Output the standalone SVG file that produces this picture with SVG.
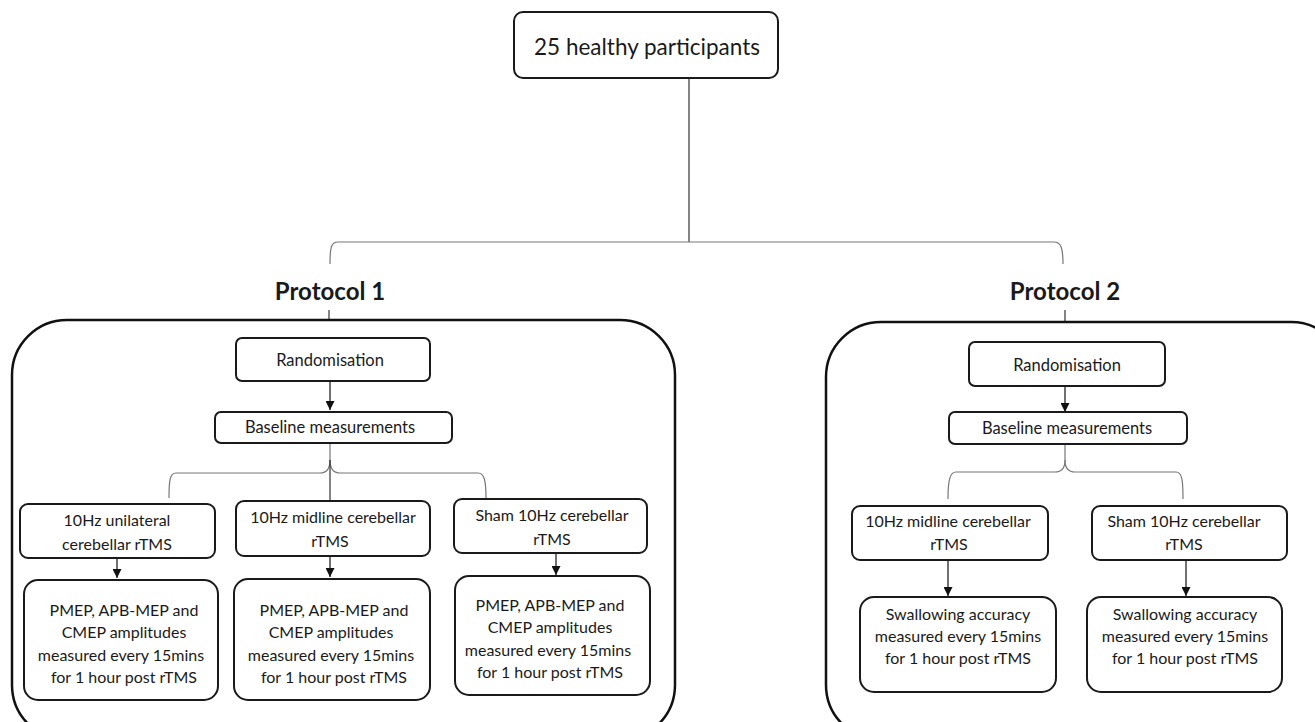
<svg xmlns="http://www.w3.org/2000/svg" width="1315" height="722" viewBox="0 0 1315 722">
<defs>
<style>
.box{fill:#fff;stroke:#1a1a1a;stroke-width:2}
.cont{fill:none;stroke:#111;stroke-width:2.5}
.t{font-family:Lato,"Open Sans",sans-serif;fill:#1a1a1a;text-anchor:middle}
.s15{font-size:16.5px}
.s16{font-size:16px}
.br{fill:none;stroke:#777;stroke-width:1.2}
.ln{fill:none;stroke:#333;stroke-width:1.2}
.ar{fill:none;stroke:#111;stroke-width:1.2;marker-end:url(#ah)}
</style>
<marker id="ah" viewBox="0 0 10 10" refX="10" refY="5" markerWidth="9" markerHeight="9" markerUnits="userSpaceOnUse" orient="auto"><path d="M0,0 L10,5 L0,10 Z" fill="#111"/></marker>
</defs>
<rect width="1315" height="722" fill="#fff"/>

<g id="connectors">
<path class="ln" d="M689,78 V242"/>
<path class="br" d="M330,264 C330,248 331,242 338,242 H1054 C1061,242 1063,248 1063,264"/>
<path class="ln" d="M329,310 V320"/>
<path class="ln" d="M1065,310 V322"/>
<path class="ar" d="M330,381 V410"/>
<path class="br" d="M330,443 V460 C330,470 326,473 320,473 H176 C170,473 169,480 169,498"/>
<path class="br" d="M330,460 C330,470 334,473 340,473 H478 C484,473 486,480 486,498"/>
<path class="ln" d="M330,460 V500"/>
<path class="ar" d="M117,558 V578"/>
<path class="ar" d="M330,556 V577"/>
<path class="ar" d="M556,553 V575"/>
<path class="ar" d="M1065,386 V412"/>
<path class="br" d="M1065,444 V460 C1065,469 1061,472 1055,472 H956 C950,472 948,480 948,499"/>
<path class="br" d="M1065,460 C1065,469 1069,472 1075,472 H1176 C1182,472 1183,480 1183,499"/>
<path class="ar" d="M948,560 V596"/>
<path class="ar" d="M1186,560 V596"/>
</g>

<g id="top">
<rect class="box" x="514" y="12" width="264" height="66" rx="9"/>
<text class="t" x="647" y="55" font-size="22.5">25 healthy participants</text>
</g>

<g id="protocol1-label"><text class="t" x="330" y="300" font-size="24" font-weight="bold" fill="#111">Protocol 1</text></g>
<g id="protocol2-label"><text class="t" x="1065" y="300" font-size="24" font-weight="bold" fill="#111">Protocol 2</text></g>

<g id="protocol1">
<rect class="cont" x="12" y="320" width="663" height="420" rx="55"/>
</g>
<g id="protocol2">
<rect class="cont" x="826" y="322" width="520" height="418" rx="55"/>
</g>

<g id="p1-random"><rect class="box" x="236" y="338" width="194" height="43" rx="6"/><text class="t s15" x="330" y="366">Randomisation</text></g>
<g id="p1-baseline"><rect class="box" x="215" y="412" width="237" height="31" rx="6"/><text class="t s15" x="330" y="433">Baseline measurements</text></g>
<g id="p1-a"><rect class="box" x="20" y="504" width="195" height="54" rx="8"/><text class="t s16" x="117" y="526">10Hz unilateral</text><text class="t s16" x="117" y="550">cerebellar rTMS</text></g>
<g id="p1-b"><rect class="box" x="236" y="501" width="194" height="55" rx="8"/><text class="t s16" x="333" y="523">10Hz midline cerebellar</text><text class="t s16" x="330" y="547">rTMS</text></g>
<g id="p1-c"><rect class="box" x="454" y="499" width="193" height="54" rx="8"/><text class="t s16" x="552" y="521">Sham 10Hz cerebellar</text><text class="t s16" x="552" y="545">rTMS</text></g>
<g id="p1-d"><rect class="box" x="24" y="580" width="194" height="120" rx="14"/>
<text class="t s16" x="124" y="616">PMEP, APB-MEP and</text><text class="t s16" x="124" y="638">CMEP amplitudes</text><text class="t s16" x="121" y="661">measured every 15mins</text><text class="t s16" x="124" y="683">for 1 hour post rTMS</text></g>
<g id="p1-e"><rect class="box" x="234" y="579" width="196" height="121" rx="14"/>
<text class="t s16" x="334" y="616">PMEP, APB-MEP and</text><text class="t s16" x="331" y="638">CMEP amplitudes</text><text class="t s16" x="331" y="661">measured every 15mins</text><text class="t s16" x="334" y="683">for 1 hour post rTMS</text></g>
<g id="p1-f"><rect class="box" x="455" y="576" width="195" height="119" rx="14"/>
<text class="t s16" x="550" y="611">PMEP, APB-MEP and</text><text class="t s16" x="550" y="633">CMEP amplitudes</text><text class="t s16" x="548" y="656">measured every 15mins</text><text class="t s16" x="550" y="678">for 1 hour post rTMS</text></g>

<g id="p2-random"><rect class="box" x="969" y="342" width="196" height="44" rx="6"/><text class="t s15" x="1067" y="371">Randomisation</text></g>
<g id="p2-baseline"><rect class="box" x="949" y="412" width="238" height="32" rx="6"/><text class="t s15" x="1067" y="434">Baseline measurements</text></g>
<g id="p2-a"><rect class="box" x="852" y="506" width="196" height="54" rx="8"/><text class="t s16" x="948" y="527">10Hz midline cerebellar</text><text class="t s16" x="949" y="550">rTMS</text></g>
<g id="p2-b"><rect class="box" x="1092" y="506" width="195" height="54" rx="8"/><text class="t s16" x="1184" y="527">Sham 10Hz cerebellar</text><text class="t s16" x="1184" y="550">rTMS</text></g>
<g id="p2-c"><rect class="box" x="860" y="597" width="196" height="95" rx="14"/>
<text class="t s16" x="958" y="620">Swallowing accuracy</text><text class="t s16" x="958" y="642">measured every 15mins</text><text class="t s16" x="958" y="664">for 1 hour post rTMS</text></g>
<g id="p2-d"><rect class="box" x="1087" y="597" width="195" height="95" rx="14"/>
<text class="t s16" x="1185" y="620">Swallowing accuracy</text><text class="t s16" x="1185" y="642">measured every 15mins</text><text class="t s16" x="1185" y="664">for 1 hour post rTMS</text></g>
</svg>
